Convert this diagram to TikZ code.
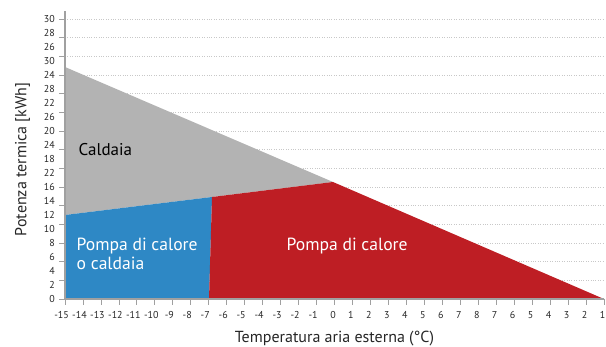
\documentclass[tikz,border=0pt]{standalone}
\usepackage{fontspec}
\setmainfont{PT Sans}
\definecolor{cgray}{RGB}{179,179,179}
\definecolor{cblue}{RGB}{46,136,197}
\definecolor{cred}{RGB}{190,30,36}
\definecolor{caxis}{RGB}{160,160,160}
\definecolor{cgrid}{RGB}{200,200,200}
\begin{document}
\begin{tikzpicture}[x=1pt,y=-1pt,
  ticklab/.style={font=\fontsize{10}{12}\selectfont,text=black!85,inner sep=0pt},
  area/.style={font=\fontsize{17}{20}\selectfont,inner sep=0pt,anchor=base west},
  axtitle/.style={font=\fontsize{16}{19}\selectfont,inner sep=0pt,text=black!85},
  gridline/.style={cgrid,line width=0.7pt,dash pattern=on 0.8pt off 1.6pt},
  axisline/.style={caxis,line width=1.6pt},
  tickline/.style={caxis,line width=0.8pt}]
\useasboundingbox (0,0) rectangle (606,347);
% grid
\foreach \j in {0,...,15} {
  \draw[gridline] (65,{299-18.667*\j}) -- (604,{299-18.667*\j});
}
% areas
\fill[cgray] (65,67) -- (333,182) -- (212,197) -- (65,215) -- cycle;
\fill[cblue] (65,215) -- (212,197) -- (209,299) -- (65,299) -- cycle;
\fill[cred] (212,197) -- (333,182) -- (604,299) -- (209,299) -- cycle;
% axes
\draw[axisline] (65,11) -- (65,299.8);
\draw[axisline] (64.2,299) -- (604,299);
% y ticks
\foreach \j in {0,...,15} {
  \draw[tickline] (59,{299-18.667*\j}) -- (65,{299-18.667*\j});
}
% y labels
\foreach \t [count=\i from 0] in {30,28,26,30,24,28,22,26,20,24,18,22,16,14,12,10,8,6,4,2,0} {
  \node[ticklab,anchor=east] (yl\i) at (55,{19+14*\i}) {\t};
}
% x ticks and labels
\foreach \t [count=\i from 0] in {-15,-14,-13,-12,-11,-10,-9,-8,-7,-6,-5,-4,-3,-2,-1,0,1,2,3,4,5,6,7,8,7,6,5,4,3,2,1} {
  \draw[tickline] ({65+17.967*\i},299) -- ({65+17.967*\i},305);
  \pgfmathsetmacro{\off}{ifthenelse(\i<15,-3.5,-1.5)}
  \node[ticklab] (xl\i) at ({65+17.967*\i+\off},315) {\t};
}
% area labels
\node[area] (caldaia) at (78.5,155.7) {Caldaia};
\node[area,text=white,font=\fontsize{17.6}{20}\selectfont] (pompa1) at (76.5,250.7) {Pompa di calore};
\node[area,text=white,font=\fontsize{17.6}{20}\selectfont] (pompa1b) at (76.5,269.5) {o caldaia};
\node[area,text=white,font=\fontsize{17.6}{20}\selectfont] (pompa2) at (286.5,250.7) {Pompa di calore};
% axis titles
\node[axtitle,rotate=90,anchor=base] (ytitle) at (26.5,159.5) {Potenza termica [kWh]};
\node[axtitle,anchor=base] (xtitle) at (334.5,342.8) {Temperatura aria esterna (°C)};
\end{tikzpicture}
\end{document}
